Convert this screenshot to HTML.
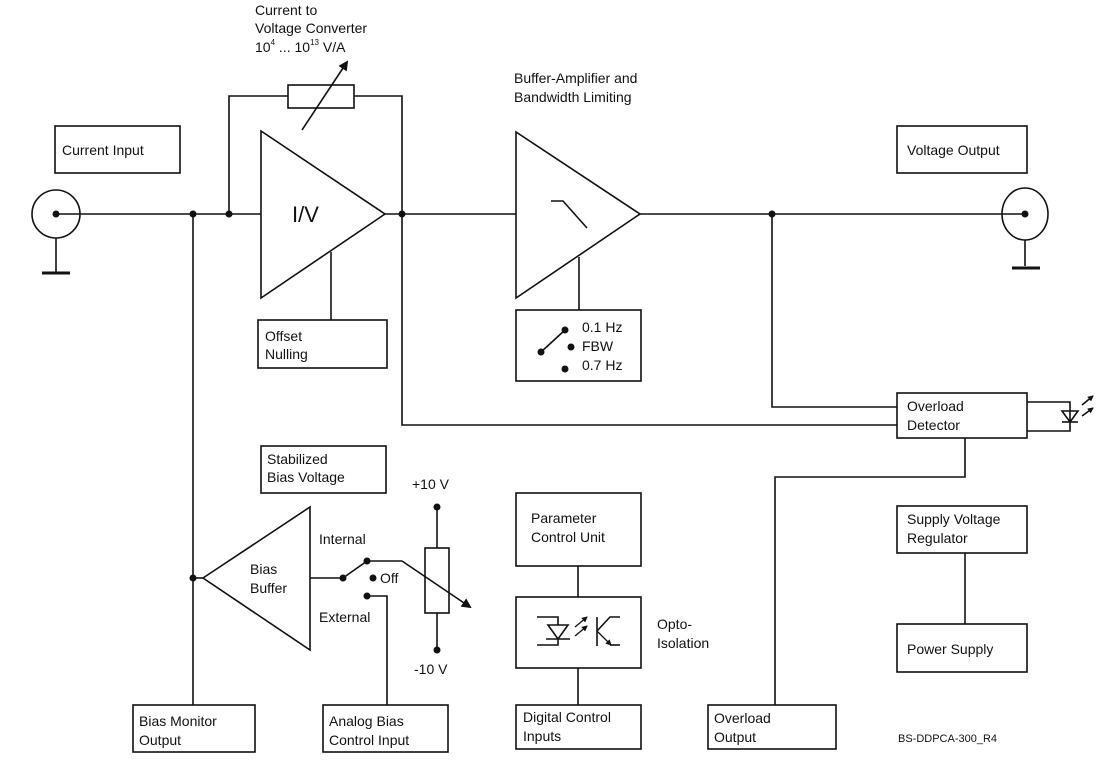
<!DOCTYPE html>
<html><head><meta charset="utf-8"><style>
html,body{margin:0;padding:0;background:#fff;}
svg{display:block;font-family:"Liberation Sans",Arial,sans-serif;}
text{font-size:14px;fill:#111;}
</style></head><body>
<svg width="1111" height="765" viewBox="0 0 1111 765" xmlns="http://www.w3.org/2000/svg">
<defs><marker id="ah" markerWidth="10" markerHeight="10" refX="8" refY="5" orient="auto" markerUnits="userSpaceOnUse"><path d="M0,0 L10,5 L0,10 z" fill="#111"/></marker>
<marker id="sa" markerWidth="6" markerHeight="6" refX="5" refY="3" orient="auto" markerUnits="userSpaceOnUse"><path d="M0,0 L6,3 L0,6 z" fill="#111"/></marker></defs>
<g stroke="#111" stroke-width="1.6" fill="none">
<circle cx="56" cy="214" r="24"/>
<line x1="56" y1="238" x2="56" y2="272"/>
<line x1="42" y1="273" x2="70" y2="273" stroke-width="3"/>
<line x1="56" y1="214" x2="261" y2="214"/>
<polyline points="229,214 229,96 288,96"/>
<rect x="288" y="85" width="66" height="23" fill="#fff"/>
<polyline points="354,96 402,96 402,214"/>
<line x1="302" y1="130" x2="347" y2="62" marker-end="url(#ah)"/>
<polygon points="261,131 261,298 385,214" fill="#fff"/>
<line x1="331" y1="252" x2="331" y2="320"/>
<rect x="258" y="320" width="129" height="48"/>
<line x1="385" y1="214" x2="516" y2="214"/>
<polyline points="402,214 402,425 897,425"/>
<polygon points="516,132 516,298 640,214" fill="#fff"/>
<polyline points="551,201 563,201 587,228"/>
<line x1="579" y1="257" x2="579" y2="310"/>
<rect x="516" y="310" width="125" height="71"/>
<line x1="541" y1="352" x2="565" y2="330"/>
<line x1="640" y1="214" x2="1025" y2="214"/>
<ellipse cx="1025" cy="214" rx="23" ry="26"/>
<line x1="1025" y1="240" x2="1025" y2="266"/>
<line x1="1012" y1="268" x2="1040" y2="268" stroke-width="3"/>
<polyline points="772,214 772,407 897,407"/>
<rect x="897" y="393" width="130" height="45"/>
<polyline points="1027,402 1070,402 1070,431 1027,431"/>
<polygon points="1062,411 1078,411 1070,422"/>
<line x1="1062" y1="422" x2="1078" y2="422"/>
<line x1="1082" y1="405" x2="1093" y2="396" marker-end="url(#sa)"/>
<line x1="1082" y1="416" x2="1093" y2="408" marker-end="url(#sa)"/>
<polyline points="965,438 965,477 775,477 775,705"/>
<rect x="708" y="705" width="128" height="44"/>
<rect x="55" y="126" width="125" height="47"/>
<rect x="897" y="126" width="130" height="47"/>
<rect x="261" y="446" width="125" height="47"/>
<rect x="516" y="493" width="125" height="73"/>
<line x1="578" y1="566" x2="578" y2="597"/>
<rect x="516" y="597" width="125" height="71"/>
<line x1="578" y1="668" x2="578" y2="705"/>
<rect x="516" y="705" width="125" height="44"/>
<rect x="897" y="506" width="130" height="47"/>
<line x1="965" y1="553" x2="965" y2="624"/>
<rect x="897" y="624" width="130" height="48"/>
<line x1="193" y1="214" x2="193" y2="705"/>
<rect x="133" y="705" width="122" height="47"/>
<polygon points="203,578 310,507 310,650" fill="#fff"/>
<line x1="193" y1="578" x2="203" y2="578"/>
<line x1="310" y1="578" x2="343" y2="578"/>
<line x1="343" y1="578" x2="367" y2="561"/>
<line x1="367" y1="561" x2="402" y2="561"/>
<line x1="402" y1="561" x2="470" y2="607" marker-end="url(#ah)"/>
<polyline points="367,596 387,596 387,705"/>
<rect x="323" y="705" width="125" height="47"/>
<line x1="437" y1="507" x2="437" y2="548"/>
<rect x="425" y="548" width="24" height="65"/>
<line x1="437" y1="613" x2="437" y2="650"/>
<!-- opto symbol -->
<polyline points="537,617 558,617 558,625"/>
<polygon points="548,625 568,625 558,639"/>
<line x1="546" y1="639" x2="570" y2="639"/>
<polyline points="558,639 558,645 537,645"/>
<line x1="575" y1="627" x2="587" y2="617" marker-end="url(#sa)" stroke-width="1.3"/>
<line x1="575" y1="636" x2="587" y2="626" marker-end="url(#sa)" stroke-width="1.3"/>
<line x1="597" y1="617" x2="597" y2="646"/>
<polyline points="597,631 610,617 620,617"/>
<line x1="597" y1="631" x2="611" y2="645" marker-end="url(#sa)" stroke-width="1.3"/>
<line x1="610" y1="645" x2="620" y2="645"/>
</g>
<g fill="#111">
<circle cx="193" cy="214" r="3.5"/><circle cx="229" cy="214" r="3.5"/><circle cx="402" cy="214" r="3.5"/>
<circle cx="56" cy="214" r="3.5"/><circle cx="1025" cy="214" r="3.5"/><circle cx="772" cy="214" r="3.5"/>
<circle cx="565" cy="330" r="3.5"/><circle cx="571" cy="347" r="3.5"/><circle cx="565" cy="369" r="3.5"/><circle cx="541" cy="352" r="3.5"/>
<circle cx="193" cy="578" r="3.5"/><circle cx="343" cy="578" r="3.5"/><circle cx="367" cy="561" r="3.5"/><circle cx="373" cy="578" r="3.5"/><circle cx="367" cy="596" r="3.5"/>
<circle cx="437" cy="507" r="3.5"/><circle cx="437" cy="650" r="3.5"/>
</g>
<text x="255" y="15">Current to</text>
<text x="255" y="33">Voltage Converter</text>
<text x="255" y="52">10<tspan font-size="8" dy="-7">4</tspan><tspan dy="7"> ... 10</tspan><tspan font-size="8" dy="-7">13</tspan><tspan dy="7"> V/A</tspan></text>
<text x="514" y="83">Buffer-Amplifier and</text>
<text x="514" y="102">Bandwidth Limiting</text>
<text x="62" y="155">Current Input</text>
<text x="907" y="155">Voltage Output</text>
<text x="292" y="222" style="font-size:22px">I/V</text>
<text x="265" y="341">Offset</text>
<text x="265" y="359">Nulling</text>
<text x="582" y="332">0.1 Hz</text>
<text x="582" y="351">FBW</text>
<text x="582" y="370">0.7 Hz</text>
<text x="907" y="411">Overload</text>
<text x="907" y="430">Detector</text>
<text x="267" y="464">Stabilized</text>
<text x="267" y="482">Bias Voltage</text>
<text x="412" y="489">+10 V</text>
<text x="414" y="674">-10 V</text>
<text x="250" y="574">Bias</text>
<text x="250" y="593">Buffer</text>
<text x="319" y="544">Internal</text>
<text x="380" y="583">Off</text>
<text x="319" y="622">External</text>
<text x="531" y="523">Parameter</text>
<text x="531" y="542">Control Unit</text>
<text x="657" y="629">Opto-</text>
<text x="657" y="648">Isolation</text>
<text x="907" y="524">Supply Voltage</text>
<text x="907" y="543">Regulator</text>
<text x="907" y="654">Power Supply</text>
<text x="139" y="726">Bias Monitor</text>
<text x="139" y="745">Output</text>
<text x="329" y="726">Analog Bias</text>
<text x="329" y="745">Control Input</text>
<text x="523" y="722">Digital Control</text>
<text x="523" y="741">Inputs</text>
<text x="714" y="723">Overload</text>
<text x="714" y="742">Output</text>
<text x="898" y="742" style="font-size:11px">BS-DDPCA-300_R4</text>
</svg>
</body></html>
